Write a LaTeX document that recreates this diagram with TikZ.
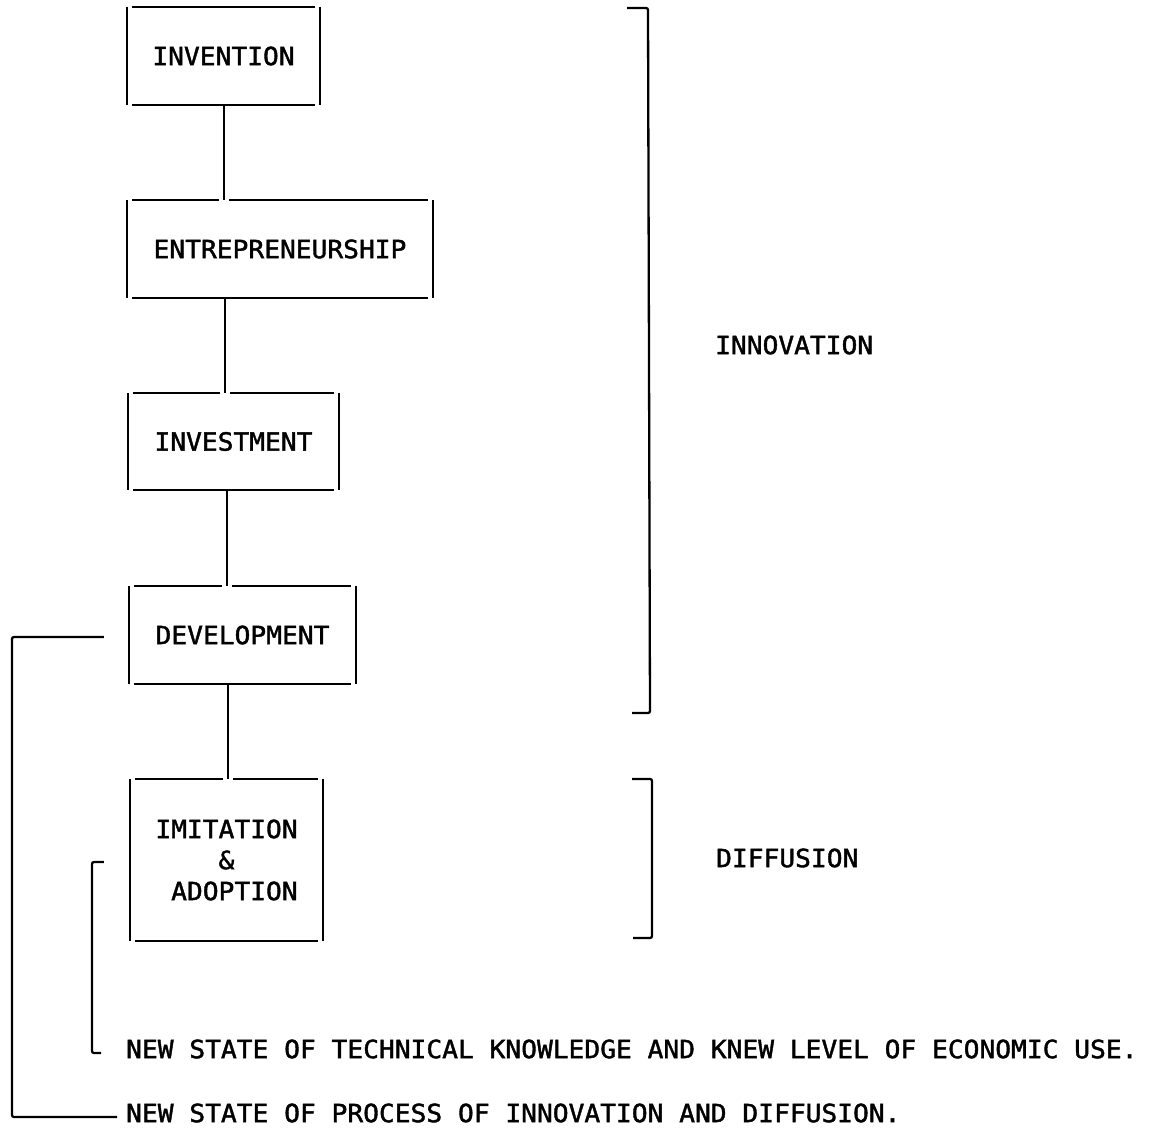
\documentclass[tikz,border=0pt]{standalone}
\usepackage{fontspec}
\setmonofont[FakeStretch=1.05,FakeBold=1.6]{DejaVu Sans Mono}
\usetikzlibrary{calc}

% sides and bottom of a stage box, drawn as separate strokes
\newcommand\stagesides[1]{%
  \draw (#1.north west) -- (#1.south west) (#1.north east) -- (#1.south east);
  \draw ($(#1.south west)+(5,0)$) -- ($(#1.south east)+(-5,0)$);}
% plain top edge
\newcommand\stagetop[1]{%
  \draw ($(#1.north west)+(5,0)$) -- ($(#1.north east)+(-5,0)$);}
% top edge broken where the incoming link #2 arrives
\newcommand\stagetopgap[2]{%
  \draw ($(#1.north west)+(5,0)$) -- ($(#2 |- #1.north)+(-5,0)$)
        ($(#2 |- #1.north)+(5,0)$) -- ($(#1.north east)+(-5,0)$);}

\begin{document}
\begin{tikzpicture}[x=1pt,y=-1pt,line width=2.3pt,
  every node/.style={font=\ttfamily\fontsize{25}{31}\selectfont},
  stage/.style={inner sep=0pt,align=center},
  tag/.style={inner sep=0pt,anchor=west},
  brace/.style={rounded corners=2pt}]
\useasboundingbox (0,0) rectangle (1154,1129);

% stages
\node[stage,minimum width=191pt,minimum height=96pt] (inv)   at (223.5,56)  {INVENTION};
\node[stage,minimum width=304pt,minimum height=96pt] (ent)   at (280,249)   {ENTREPRENEURSHIP};
\node[stage,minimum width=209pt,minimum height=95pt] (invst) at (233.5,441.5) {INVESTMENT};
\node[stage,minimum width=225pt,minimum height=96pt] (dev)   at (242.5,635) {DEVELOPMENT};
\node[stage,minimum width=191pt,minimum height=160pt,align=left] (imit) at (226.5,860)
  {IMITATION\\\phantom{IMIT}\&\\\phantom{I}ADOPTION};

% links between the stages
\coordinate (k1) at ($(inv.south)+(0.5,0)$);
\coordinate (k2) at ($(ent.south)+(-55,0)$);
\coordinate (k3) at ($(invst.south)+(-6.5,0)$);
\coordinate (k4) at ($(dev.south)+(-14.5,0)$);
\draw (k1) -- (k1 |- ent.north);
\draw (k2) -- (k2 |- invst.north);
\draw (k3) -- (k3 |- dev.north);
\draw (k4) -- (k4 |- imit.north);

% box outlines
\foreach \n in {inv,ent,invst,dev,imit} {\stagesides{\n}}
\stagetop{inv}
\stagetopgap{ent}{k1}
\stagetopgap{invst}{k2}
\stagetopgap{dev}{k3}
\stagetopgap{imit}{k4}

% phase labels and their brackets
\node[tag] (innov) at (714,345) {INNOVATION};
\node[tag] (diff)  at (715,858) {DIFFUSION};
\draw[brace] (627,8) -- (648,8) -- (650,713) -- (632,713);
\draw[brace] (632,779) -- (652,779) -- (652,938) -- (633,938);

% outcomes
\node[tag] (out1) at (125,1049) {NEW STATE OF TECHNICAL KNOWLEDGE AND KNEW LEVEL OF ECONOMIC USE.};
\node[tag] (out2) at (125,1113) {NEW STATE OF PROCESS OF INNOVATION AND DIFFUSION.};

% feedback lines
\draw[brace] ($(dev.west)+(-25,2)$) -- (12,637) |- ($(out2.west)+(-8,4)$);
\draw[brace] ($(imit.west)+(-26,2)$) -- (92,862) |- ($(out1.west)+(-24,4)$);
\end{tikzpicture}
\end{document}
